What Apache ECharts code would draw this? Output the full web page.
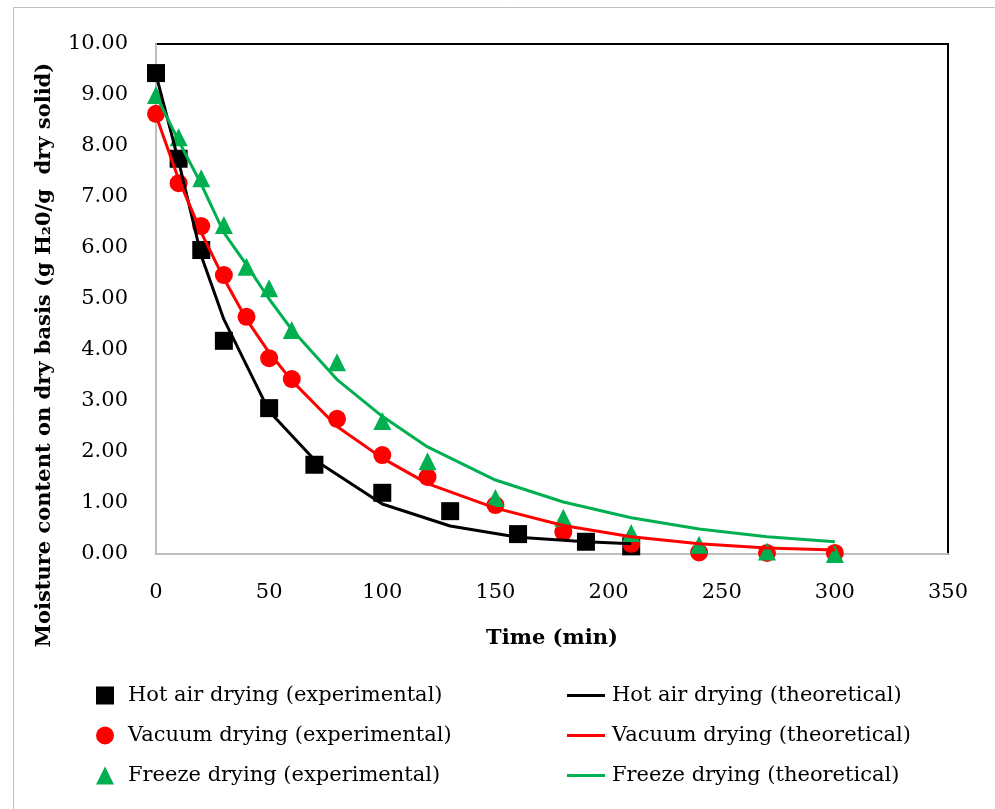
<!DOCTYPE html>
<html>
<head>
<meta charset="utf-8">
<script src="https://cdn.jsdelivr.net/npm/echarts@6/dist/echarts.min.js"></script>
<style>
  html, body { margin: 0; padding: 0; background: #fff; }
  #chart { width: 995px; height: 809px; }
</style>
</head>
<body>
<div id="chart"></div>
<script>
// drying times (min)
const hotTime = [0, 10, 20, 30, 50, 70, 100, 130, 160, 190, 210];
const vacTime = [0, 10, 20, 30, 40, 50, 60, 80, 100, 120, 150, 180, 210, 240, 270, 300];
const frzTime = [0, 10, 20, 30, 40, 50, 60, 80, 100, 120, 150, 180, 210, 240, 270, 300];

// moisture content (g H2O / g dry solid)
const hotExp = [9.43, 7.75, 5.96, 4.18, 2.86, 1.75, 1.2, 0.84, 0.39, 0.24, 0.15];
const hotTheo = [9.4, 7.7, 5.85, 4.6, 2.8, 1.85, 0.98, 0.55, 0.33, 0.24, 0.2];
const vacExp = [8.63, 7.27, 6.43, 5.47, 4.65, 3.84, 3.43, 2.65, 1.94, 1.51, 0.96, 0.43, 0.2, 0.03, 0.02, 0.02];
const vacTheo = [8.6, 7.35, 6.3, 5.4, 4.6, 3.95, 3.4, 2.5, 1.88, 1.38, 0.9, 0.56, 0.34, 0.2, 0.12, 0.08];
const frzExp = [9.0, 8.17, 7.37, 6.45, 5.63, 5.21, 4.39, 3.76, 2.61, 1.82, 1.1, 0.71, 0.41, 0.18, 0.05, 0.0];
const frzTheo = [9.0, 8.1, 7.25, 6.3, 5.67, 5.0, 4.4, 3.42, 2.7, 2.1, 1.45, 1.02, 0.71, 0.49, 0.34, 0.24];

const expNames = ['Hot air drying (experimental)', 'Vacuum drying (experimental)', 'Freeze drying (experimental)'];
const theoNames = ['Hot air drying (theoretical)', 'Vacuum drying (theoretical)', 'Freeze drying (theoretical)'];

const FONT = '"DejaVu Serif", serif';
const FS = 21;
const pair = (xs, ys) => xs.map((x, i) => [x, ys[i]]);

const chart = echarts.init(document.getElementById('chart'));

const scatter = (name, xs, ys, symbol, color, size) => ({
  name: name,
  type: 'scatter',
  symbol: symbol,
  symbolSize: size,
  itemStyle: { color: color, opacity: 1 },
  data: pair(xs, ys)
});

const line = (name, xs, ys, color) => ({
  name: name,
  type: 'line',
  symbol: 'none',
  showSymbol: false,
  lineStyle: { color: color, width: 3 },
  itemStyle: { color: color },
  data: pair(xs, ys)
});

const option = {
  animation: false,
  backgroundColor: '#fff',
  textStyle: { fontFamily: FONT, color: '#000' },
  grid: {
    left: 156, top: 44, right: 47, bottom: 255,
    show: true, borderColor: '#000', borderWidth: 2
  },
  graphic: [
    {
      type: 'rect', silent: true,
      shape: { x: 13.5, y: 7.5, width: 1100, height: 900 },
      style: { fill: 'none', stroke: '#bfbfbf', lineWidth: 1 }
    },
    {
      type: 'text', x: 45, y: 355, rotation: Math.PI / 2, silent: true,
      style: {
        text: 'Moisture content on dry basis (g H\u20820/g  dry solid)',
        fontFamily: FONT, fontWeight: 'bold', fontSize: FS, fill: '#000',
        align: 'center', verticalAlign: 'middle'
      }
    }
  ],
  legend: [
    {
      data: expNames, orient: 'vertical', left: 91, top: 680,
      itemWidth: 18, itemHeight: 18, itemGap: 19,
      textStyle: { fontFamily: FONT, fontSize: FS, color: '#000', padding: [0, 0, 0, 9] }
    },
    {
      data: theoNames, orient: 'vertical', left: 562, top: 680,
      icon: 'rect', itemWidth: 38, itemHeight: 3, itemGap: 19,
      textStyle: { fontFamily: FONT, fontSize: FS, color: '#000', padding: [0, 0, 0, 2] }
    }
  ],
  xAxis: {
    type: 'value', min: 0, max: 350, interval: 50,
    name: 'Time (min)', nameLocation: 'middle', nameGap: 74,
    nameTextStyle: { fontFamily: FONT, fontWeight: 'bold', fontSize: FS, color: '#000' },
    axisLine: { show: true, lineStyle: { color: '#bfbfbf', width: 2 } },
    axisTick: { show: false },
    splitLine: { show: false },
    axisLabel: { margin: 28, fontFamily: FONT, fontSize: FS, color: '#000' }
  },
  yAxis: {
    type: 'value', min: 0, max: 10, interval: 1,
    axisLine: { show: true, lineStyle: { color: '#bfbfbf', width: 2 } },
    axisTick: { show: false },
    splitLine: { show: false },
    axisLabel: {
      margin: 28, fontFamily: FONT, fontSize: FS, color: '#000',
      formatter: v => v.toFixed(2)
    }
  },
  series: [
    scatter(expNames[0], hotTime, hotExp, 'rect', '#000000', 18),
    scatter(expNames[1], vacTime, vacExp, 'circle', '#ff0000', 18),
    scatter(expNames[2], frzTime, frzExp, 'triangle', '#00b050', 18),
    line(theoNames[0], hotTime, hotTheo, '#000000'),
    line(theoNames[1], vacTime, vacTheo, '#ff0000'),
    line(theoNames[2], frzTime, frzTheo, '#00b050')
  ]
};

chart.setOption(option);
</script>
</body>
</html>
